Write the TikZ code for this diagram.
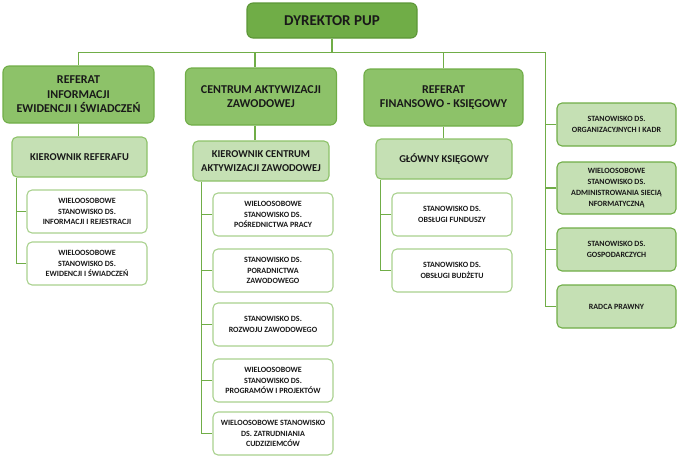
\documentclass[tikz,border=0pt]{standalone}
\usepackage{fontspec}
\setmainfont{Carlito}
\definecolor{pupdark}{RGB}{112,173,71}
\definecolor{pupdarkline}{RGB}{92,150,55}
\definecolor{pupmid}{RGB}{141,194,105}
\definecolor{puplight}{RGB}{197,224,180}
\definecolor{pupedge}{RGB}{169,209,142}
\begin{document}
\begin{tikzpicture}[x=1pt,y=-1pt,
    box/.style={rounded corners=5pt,line width=1.1pt,align=center,inner sep=0pt,
      font=\bfseries,text=black!90},
    boss/.style={box,fill=pupdark,draw=pupdarkline,minimum width=170pt,minimum height=35pt,
      rounded corners=6pt,font=\fontsize{15}{18}\selectfont\bfseries},
    dept/.style={box,fill=pupmid,draw=pupdark,minimum width=151pt,minimum height=57pt,
      rounded corners=6pt,font=\fontsize{12}{14.5}\selectfont\bfseries},
    head/.style={box,fill=puplight,draw=pupmid,minimum width=136pt,minimum height=40pt,
      font=\fontsize{10.5}{13.3}\selectfont\bfseries},
    post/.style={box,fill=white,draw=pupedge,minimum width=120pt,minimum height=43pt,
      font=\fontsize{8}{10.8}\selectfont\bfseries},
    side/.style={post,fill=puplight,draw=pupdark,minimum width=119pt},
    link/.style={draw=pupdark,line width=1.5pt}
  ]
  \useasboundingbox (0,0) rectangle (680,458);
  \node[boss] (dyr) at (332,20.5) {DYREKTOR PUP};
  \node[dept] (ref1) at (78.5,94.5) {REFERAT\\INFORMACJI\\EWIDENCJI I ŚWIADCZEŃ};
  \node[dept] (cen) at (261,96.5) {CENTRUM AKTYWIZACJI\\ZAWODOWEJ};
  \node[dept,minimum width=159pt] (fin) at (443.5,97.5) {REFERAT\\FINANSOWO - KSIĘGOWY};
  \node[head,minimum width=135pt] (kr) at (79.5,157) {KIEROWNIK REFERAFU};
  \node[head] (kc) at (261,161) {KIEROWNIK CENTRUM\\AKTYWIZACJI ZAWODOWEJ};
  \node[head] (gk) at (444,159) {GŁÓWNY KSIĘGOWY};
  % stanowiska
  \node[post] (p1) at (87,211.5) {WIELOOSOBOWE\\STANOWISKO DS.\\INFORMACJI I REJESTRACJI};
  \node[post] (p2) at (87,263.5) {WIELOOSOBOWE\\STANOWISKO DS.\\EWIDENCJI I ŚWIADCZEŃ};
  \node[post] (c1) at (273,214.5) {WIELOOSOBOWE\\STANOWISKO DS.\\POŚREDNICTWA PRACY};
  \node[post] (c2) at (273,270.5) {STANOWISKO DS.\\PORADNICTWA\\ZAWODOWEGO};
  \node[post] (c3) at (273,324.5) {STANOWISKO DS.\\ROZWOJU ZAWODOWEGO};
  \node[post] (c4) at (273,380.5) {WIELOOSOBOWE\\STANOWISKO DS.\\PROGRAMÓW I PROJEKTÓW};
  \node[post] (c5) at (273,433.5) {WIELOOSOBOWE STANOWISKO\\DS. ZATRUDNIANIA\\CUDZIZIEMCÓW};
  \node[post] (f1) at (452,214.5) {STANOWISKO DS.\\OBSŁUGI FUNDUSZY};
  \node[post] (f2) at (452,270.5) {STANOWISKO DS.\\OBSŁUGI BUDŻETU};
  \node[side] (s1) at (616.5,124.5) {STANOWISKO DS.\\ORGANIZACYJNYCH I KADR};
  \node[side,minimum height=52pt] (s2) at (616.5,188) {WIELOOSOBOWE\\STANOWISKO DS.\\ADMINISTROWANIA SIECIĄ\\NFORMATYCZNĄ};
  \node[side] (s3) at (616.5,249.5) {STANOWISKO DS.\\GOSPODARCZYCH};
  \node[side] (s4) at (616.5,306.5) {RADCA PRAWNY};

  \draw[link] (dyr.south) -- ++(0,14) coordinate (bus);
  \draw[link] (ref1.north) |- (bus) -| ([xshift=-11pt]s4.west) -- (s4.west);
  \draw[link] ([xshift=-6pt]cen.north) -- ([xshift=-6pt]cen.north |- bus);
  \draw[link] (fin.north) -- (fin.north |- bus);
  \foreach \n in {s1,s2,s3} \draw[link] (\n.west) -- ++(-11,0);
  \draw[link] (ref1.south) -- (ref1.south |- kr.north);
  \draw[link] ([xshift=-6pt]cen.south) -- ([xshift=-6pt]cen.south |- kc.north);
  \draw[link] (fin.south) -- (fin.south |- gk.north);
  \draw[link] ([xshift=5pt]kr.south west) |- (p2.west);
  \draw[link] (p1.west) -- ++(-10,0);
  \draw[link] ([xshift=9pt]kc.south west) |- (c5.west);
  \foreach \n in {c1,c2,c3,c4} \draw[link] (\n.west) -- ++(-11,0);
  \draw[link] ([xshift=5pt]gk.south west) |- (f2.west);
  \draw[link] (f1.west) -- ++(-11,0);
\end{tikzpicture}
\end{document}
